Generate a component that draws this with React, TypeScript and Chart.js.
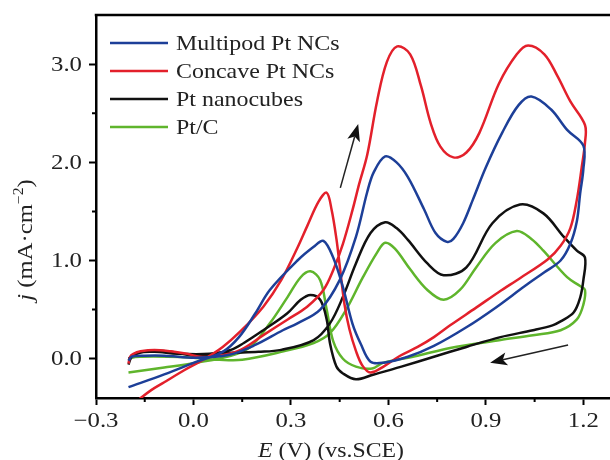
import React, { useEffect, useRef } from "react";
import { Chart, registerables } from "chart.js";

Chart.register(...registerables);

// ---- data ----
const seriesNames = ["Multipod Pt NCs", "Concave Pt NCs", "Pt nanocubes", "Pt/C"];
const seriesColors = ["#1d3f98", "#e3202b", "#111111", "#5fb52c"];

const multipodE = [-0.2,-0.19,-0.15,-0.09,0.01,0.11,0.19,0.275,0.32,0.39,0.45,0.50,0.535,0.555,0.59,0.625,0.66,0.71,0.745,0.78,0.80,0.83,0.86,0.90,0.95,1.0,1.04,1.10,1.15,1.2,
  1.2,1.19,1.18,1.16,1.13,1.08,1.02,0.93,0.84,0.74,0.66,0.585,0.545,0.515,0.49,0.46,0.43,0.40,0.37,0.32,0.235,0.19,0.14,0.09,0.01,-0.09,-0.2];
const multipodJ = [-0.02,0.02,0.03,0.03,0.01,0.04,0.14,0.29,0.36,0.50,0.80,1.24,1.70,1.90,2.06,2.00,1.85,1.52,1.28,1.19,1.22,1.38,1.62,1.95,2.30,2.58,2.67,2.54,2.33,2.17,
  1.93,1.68,1.40,1.17,1.00,0.88,0.74,0.52,0.32,0.13,0.02,-0.04,-0.03,0.15,0.35,0.73,1.03,1.20,1.14,1.00,0.70,0.46,0.22,0.07,-0.03,-0.16,-0.29];

const concaveE = [-0.2,-0.195,-0.185,-0.163,-0.12,-0.07,-0.02,0.02,0.08,0.145,0.215,0.29,0.35,0.40,0.43,0.46,0.49,0.51,0.535,0.565,0.595,0.627,0.667,0.70,0.73,0.76,0.80,0.84,0.88,0.94,0.995,1.03,1.08,1.12,1.16,1.205,
  1.205,1.195,1.18,1.16,1.13,1.09,1.005,0.94,0.87,0.79,0.74,0.69,0.636,0.585,0.545,0.52,0.50,0.48,0.465,0.45,0.44,0.425,0.41,0.385,0.35,0.32,0.27,0.215,0.145,0.09,0.03,-0.03,-0.09,-0.13,-0.17];
const concaveJ = [-0.05,0.02,0.05,0.075,0.09,0.075,0.05,0.02,0.03,0.09,0.24,0.40,0.53,0.70,0.90,1.17,1.52,1.78,2.08,2.62,3.02,3.18,3.10,2.78,2.40,2.16,2.05,2.10,2.30,2.80,3.10,3.19,3.10,2.88,2.62,2.38,
  2.2,1.95,1.62,1.33,1.15,1.01,0.82,0.68,0.52,0.34,0.22,0.12,0.03,-0.08,-0.14,-0.07,0.08,0.30,0.55,0.95,1.22,1.52,1.69,1.60,1.35,1.13,0.80,0.53,0.28,0.12,-0.01,-0.12,-0.24,-0.32,-0.42];

const cubesE = [-0.2,-0.19,-0.165,-0.12,-0.07,-0.02,0.02,0.06,0.115,0.2,0.27,0.37,0.42,0.46,0.50,0.545,0.59,0.625,0.66,0.72,0.77,0.84,0.92,1.005,1.077,1.14,1.18,1.205,
  1.2,1.19,1.17,1.13,1.105,1.045,0.945,0.84,0.74,0.64,0.555,0.50,0.46,0.44,0.42,0.41,0.39,0.36,0.33,0.288,0.215,0.155,0.115,0.05,-0.05,-0.12,-0.17,-0.2];
const cubesJ = [-0.06,0.02,0.06,0.08,0.07,0.04,0.03,0.05,0.06,0.07,0.09,0.19,0.36,0.63,0.97,1.28,1.39,1.33,1.21,0.97,0.85,0.93,1.38,1.57,1.48,1.24,1.10,1.03,
  0.80,0.62,0.47,0.38,0.34,0.29,0.22,0.12,0.02,-0.08,-0.16,-0.21,-0.15,-0.08,0.16,0.40,0.60,0.65,0.60,0.46,0.29,0.16,0.09,0.05,0.05,0.07,0.06,0.0];

const ptcE = [-0.2,-0.19,-0.16,-0.08,0.0,0.08,0.15,0.27,0.37,0.42,0.47,0.52,0.565,0.59,0.62,0.667,0.72,0.77,0.82,0.87,0.93,0.995,1.04,1.077,1.15,1.19,1.205,
  1.2,1.18,1.13,1.045,0.945,0.79,0.69,0.585,0.55,0.50,0.46,0.43,0.41,0.39,0.36,0.33,0.29,0.235,0.175,0.115,0.01,-0.09,-0.2];
const ptcJ = [-0.02,0.01,0.02,0.02,0.01,-0.01,-0.01,0.07,0.16,0.26,0.50,0.82,1.08,1.18,1.12,0.91,0.70,0.60,0.70,0.93,1.18,1.30,1.22,1.10,0.83,0.74,0.70,
  0.55,0.40,0.29,0.24,0.19,0.11,0.03,-0.04,-0.10,-0.08,0.0,0.18,0.50,0.80,0.89,0.83,0.63,0.36,0.12,0.03,-0.04,-0.09,-0.14];

const xMajor = [-0.3, 0, 0.3, 0.6, 0.9, 1.2];
const xMinor = [-0.15, 0.15, 0.45, 0.75, 1.05];
const yMajor = [0, 1, 2, 3];
const yMinor = [0.5, 1.5, 2.5];

// arrows in data units: [tailE, tailJ, headE, headJ]
const arrowForward = [0.452, 1.74, 0.507, 2.39];
const arrowBackward = [1.153, 0.14, 0.913, -0.04];

const FONT = "'Liberation Serif', 'Times New Roman', serif";
const TEXT = "#222";

const fmt = (v: number) => (v < 0 ? "\u2212" : "") + Math.abs(v).toFixed(1);
const toPts = (E: number[], J: number[]) => E.map((e, i) => ({ x: e, y: J[i] }));

function drawArrow(ctx: CanvasRenderingContext2D, x1: number, y1: number, x2: number, y2: number) {
  const ang = Math.atan2(y2 - y1, x2 - x1);
  const len = 17, half = 6.5;
  const bx = x2 - len * Math.cos(ang), by = y2 - len * Math.sin(ang);
  ctx.save();
  ctx.strokeStyle = "#222";
  ctx.fillStyle = "#111";
  ctx.lineWidth = 1.5;
  ctx.beginPath();
  ctx.moveTo(x1, y1);
  ctx.lineTo(bx + 4 * Math.cos(ang), by + 4 * Math.sin(ang));
  ctx.stroke();
  ctx.beginPath();
  ctx.moveTo(x2, y2);
  ctx.lineTo(bx - half * Math.sin(ang), by + half * Math.cos(ang));
  ctx.lineTo(bx + 4 * Math.cos(ang), by + 4 * Math.sin(ang));
  ctx.lineTo(bx + half * Math.sin(ang), by - half * Math.cos(ang));
  ctx.closePath();
  ctx.fill();
  ctx.restore();
}

// draw text stretched horizontally (along its direction)
function drawText(ctx: CanvasRenderingContext2D, t: string, x: number, y: number, size: number, sx: number, align: CanvasTextAlign) {
  ctx.save();
  ctx.translate(x, y);
  ctx.scale(sx, 1);
  ctx.font = `${size}px ${FONT}`;
  ctx.textAlign = align;
  ctx.textBaseline = "middle";
  ctx.fillText(t, 0, 0);
  ctx.restore();
}

type Seg = { t: string; italic?: boolean; sup?: boolean };
function drawSegs(ctx: CanvasRenderingContext2D, segs: Seg[], size: number, sx: number) {
  const fontOf = (s: Seg) => `${s.italic ? "italic " : ""}${s.sup ? Math.round(size * 0.65) : size}px ${FONT}`;
  ctx.scale(sx, 1);
  let total = 0;
  const widths = segs.map((s) => {
    ctx.font = fontOf(s);
    const w = ctx.measureText(s.t).width;
    total += w;
    return w;
  });
  let x = -total / 2;
  ctx.textBaseline = "alphabetic";
  ctx.textAlign = "left";
  const base = size * 0.33;
  segs.forEach((s, i) => {
    ctx.font = fontOf(s);
    ctx.fillText(s.t, x, s.sup ? base - size * 0.4 : base);
    x += widths[i];
  });
}

const overlay = {
  id: "overlay",
  afterDraw(chart: any) {
    const { ctx, chartArea: a, scales } = chart;
    const xs = scales.x, ys = scales.y;
    ctx.save();
    // top frame line
    ctx.strokeStyle = "#000";
    ctx.lineWidth = 2.5;
    ctx.beginPath();
    ctx.moveTo(a.left - 1.25, a.top);
    ctx.lineTo(a.right, a.top);
    ctx.stroke();
    // minor ticks
    ctx.lineWidth = 2;
    ctx.beginPath();
    xMinor.forEach((v) => {
      const px = xs.getPixelForValue(v);
      ctx.moveTo(px, a.bottom);
      ctx.lineTo(px, a.bottom + 4);
    });
    yMinor.forEach((v) => {
      const py = ys.getPixelForValue(v);
      ctx.moveTo(a.left, py);
      ctx.lineTo(a.left - 4, py);
    });
    ctx.stroke();

    // tick labels
    ctx.fillStyle = TEXT;
    xMajor.forEach((v) => drawText(ctx, fmt(v), xs.getPixelForValue(v), a.bottom + 23, 21, 1.18, "center"));
    yMajor.forEach((v) => drawText(ctx, fmt(v), a.left - 14, ys.getPixelForValue(v) + 1, 21, 1.18, "right"));

    // legend
    chart.data.datasets.forEach((ds: any, i: number) => {
      const y = a.top + 28 + i * 28;
      ctx.strokeStyle = ds.borderColor;
      ctx.lineWidth = 2.5;
      ctx.beginPath();
      ctx.moveTo(a.left + 14, y);
      ctx.lineTo(a.left + 72, y);
      ctx.stroke();
      ctx.fillStyle = TEXT;
      drawText(ctx, ds.label, a.left + 80, y + 1, 21, 1.14, "left");
    });

    // arrows
    [arrowForward, arrowBackward].forEach((ar) => {
      drawArrow(
        ctx,
        xs.getPixelForValue(ar[0]), ys.getPixelForValue(ar[1]),
        xs.getPixelForValue(ar[2]), ys.getPixelForValue(ar[3])
      );
    });

    // axis titles
    ctx.fillStyle = TEXT;
    ctx.save();
    ctx.translate(25, 240);
    ctx.rotate(-Math.PI / 2);
    drawSegs(ctx, [{ t: "j", italic: true }, { t: " (mA\u00b7cm" }, { t: "\u22122", sup: true }, { t: ")" }], 22, 1.12);
    ctx.restore();
    ctx.save();
    ctx.translate(331, 450);
    drawSegs(ctx, [{ t: "E", italic: true }, { t: " (V) (vs.SCE)" }], 22, 1.08);
    ctx.restore();
    ctx.restore();
  },
};

export default function App() {
  const ref = useRef<HTMLCanvasElement | null>(null);
  useEffect(() => {
    if (!ref.current) return;
    const all = [
      [multipodE, multipodJ],
      [concaveE, concaveJ],
      [cubesE, cubesJ],
      [ptcE, ptcJ],
    ];
    const chart = new Chart(ref.current, {
      type: "scatter",
      data: {
        datasets: all.map(([E, J], i) => ({
          label: seriesNames[i],
          data: toPts(E, J),
          showLine: true,
          borderColor: seriesColors[i],
          backgroundColor: seriesColors[i],
          borderWidth: 2.5,
          pointRadius: 0,
          tension: 0.35,
          fill: false,
        })),
      },
      options: {
        animation: false,
        responsive: false,
        layout: { padding: { top: 15, left: 0, right: 0, bottom: 0 } },
        plugins: { legend: { display: false }, tooltip: { enabled: false } },
        scales: {
          x: {
            type: "linear",
            min: -0.3,
            max: 1.282,
            afterBuildTicks: (s: any) => {
              s.ticks = xMajor.map((v) => ({ value: v }));
            },
            afterFit: (s: any) => {
              s.height = 62;
            },
            ticks: { display: false },
            grid: { drawOnChartArea: false, drawTicks: true, tickLength: 7, tickWidth: 2, tickColor: "#000" },
            border: { display: true, color: "#000", width: 2.5 },
          },
          y: {
            type: "linear",
            min: -0.4,
            max: 3.5,
            afterBuildTicks: (s: any) => {
              s.ticks = yMajor.map((v) => ({ value: v }));
            },
            afterFit: (s: any) => {
              s.width = 96;
            },
            ticks: { display: false },
            grid: { drawOnChartArea: false, drawTicks: true, tickLength: 7, tickWidth: 2, tickColor: "#000" },
            border: { display: true, color: "#000", width: 2.5 },
          },
        },
      },
      plugins: [overlay],
    });
    return () => chart.destroy();
  }, []);
  return (
    <div style={{ position: "absolute", left: 0, top: 0, width: 610, height: 460, background: "#fff" }}>
      <canvas ref={ref} width={610} height={460} style={{ display: "block" }} />
    </div>
  );
}
